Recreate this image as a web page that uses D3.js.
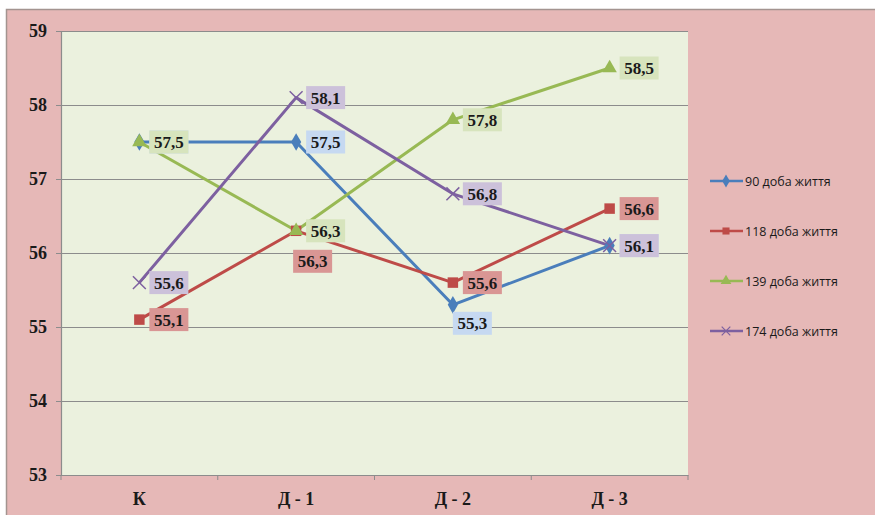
<!DOCTYPE html>
<html>
<head>
<meta charset="utf-8">
<script src="https://cdnjs.cloudflare.com/ajax/libs/d3/7.8.5/d3.min.js"></script>
<style>
  body { margin: 0; background: #fff; }
  svg { display: block; }
</style>
</head>
<body>
<script>
// data
const categories = ["К", "Д - 1", "Д - 2", "Д - 3"];
const seriesNames = ["90 доба життя", "118 доба життя", "139 доба життя", "174 доба життя"];
const s90  = [57.5, 57.5, 55.3, 56.1];
const s118 = [55.1, 56.3, 55.6, 56.6];
const s139 = [57.5, 56.3, 57.8, 58.5];
const s174 = [55.6, 58.1, 56.8, 56.1];
const yTicks = [53, 54, 55, 56, 57, 58, 59];

const colors  = ["#4a7ebb", "#be4b48", "#98b954", "#7d60a0"];
const boxFill = ["#c6d9f1", "#d99694", "#d7e4bd", "#ccc1da"];
const symbols = ["diamond", "square", "triangle", "cross"];
// label placement: "r" = right of point, "b" = below
const placement = [["r", "r", "b", "r"], ["r", "b", "r", "r"], ["r", "r", "r", "r"], ["r", "r", "r", "r"]];

const series = [s90, s118, s139, s174].map((v, i) => ({name: seriesNames[i], values: v, i}));

const W = 875, H = 515;
const plot = {left: 61, right: 688, top: 31, bottom: 475};
const serif = "'Liberation Serif', 'Times New Roman', serif";

const svg = d3.select("body").append("svg").attr("width", W).attr("height", H);

// outer chart area
svg.append("rect").attr("x", 6).attr("y", 10).attr("width", W - 6).attr("height", H - 10)
   .attr("fill", "#e6b8b7");
svg.append("path").attr("d", `M6.5,${H} V9.5 H${W}`).attr("fill", "none")
   .attr("stroke", "#a39490").attr("stroke-width", 1.5);

svg.append("rect").attr("x", plot.left).attr("y", plot.top)
   .attr("width", plot.right - plot.left).attr("height", plot.bottom - plot.top)
   .attr("fill", "#ebf1de");

const x = d3.scaleBand().domain(categories).range([plot.left, plot.right]);
const y = d3.scaleLinear().domain([53, 59]).range([plot.bottom, plot.top]);
const cx = c => x(c) + x.bandwidth() / 2;

// gridlines
svg.append("g").selectAll("line").data(yTicks.slice(1)).enter().append("line")
   .attr("x1", plot.left).attr("x2", plot.right)
   .attr("y1", d => y(d) + 0.5).attr("y2", d => y(d) + 0.5)
   .attr("stroke", "#8c8c8c").attr("stroke-width", 1.2);

// y axis
const yAxis = svg.append("g").attr("transform", `translate(${plot.left},0)`)
   .call(d3.axisLeft(y).tickValues(yTicks).tickSize(5).tickPadding(9).tickFormat(d3.format("d")));
// x axis
const xAxis = svg.append("g").attr("transform", `translate(0,${plot.bottom})`)
   .call(d3.axisBottom(x).tickSize(0).tickPadding(17));
xAxis.selectAll(".tick").append("line").attr("x1", -x.bandwidth() / 2).attr("x2", -x.bandwidth() / 2)
   .attr("y1", 0).attr("y2", 5).attr("stroke", "#8c8c8c");
xAxis.append("line").attr("x1", plot.right).attr("x2", plot.right).attr("y1", 0).attr("y2", 5)
   .attr("stroke", "#8c8c8c");

[yAxis, xAxis].forEach(a => {
  a.attr("font-family", serif);
  a.select(".domain").attr("stroke", "#8c8c8c").attr("stroke-width", 1.2);
  a.selectAll(".tick line").attr("stroke", "#8c8c8c");
  a.selectAll("text").attr("font-family", serif)
   .attr("font-weight", "bold").attr("font-size", 18).attr("fill", "#1a1a1a");
});
yAxis.select(".domain").attr("d", `M-5,${plot.top}.5H0.5V${plot.bottom}.5H-5`);

const line = d3.line().x((d, j) => cx(categories[j])).y(d => y(d));
const symType = {diamond: d3.symbolDiamond, square: d3.symbolSquare, triangle: d3.symbolTriangle, cross: d3.symbolX};

// lines and markers
const g = svg.append("g");
series.forEach(s => {
  g.append("path").datum(s.values).attr("d", line).attr("fill", "none")
   .attr("stroke", colors[s.i]).attr("stroke-width", 3).attr("stroke-linejoin", "round");
});
series.forEach(s => {
  const name = symbols[s.i];
  g.selectAll(null).data(s.values).enter().append("path")
   .attr("transform", (d, j) => `translate(${cx(categories[j])},${y(d)})`)
   .attr("d", d3.symbol().type(symType[name]).size(name === "diamond" || name === "triangle" ? 90 : 110)())
   .attr("fill", name === "cross" ? "none" : colors[s.i])
   .attr("stroke", name === "cross" ? colors[s.i] : "none")
   .attr("stroke-width", 1.5);
});

// data labels
const fmt = v => d3.format(".1f")(v).replace(".", ",");
series.forEach(s => {
  s.values.forEach((v, j) => {
    const px = cx(categories[j]), py = y(v);
    const bw = 39, bh = 23;
    let bx, by;
    if (placement[s.i][j] === "b") { bx = px - (j === 1 ? 3 : 0); by = py + (j === 1 ? 19 : 7); }
    else { bx = px + 10; by = py - bh / 2; }
    g.append("rect").attr("x", bx).attr("y", by).attr("width", bw).attr("height", bh)
     .attr("fill", boxFill[s.i]);
    g.append("text").attr("x", bx + bw / 2).attr("y", by + bh / 2 + 6)
     .attr("text-anchor", "middle")
     .attr("font-family", serif)
     .attr("font-weight", "bold").attr("font-size", 17).attr("fill", "#1a1a1a")
     .text(fmt(v));
  });
});

// legend
const lg = svg.append("g").attr("transform", "translate(710,181)");
const item = lg.selectAll("g").data(series).enter().append("g")
   .attr("transform", (d, i) => `translate(0,${i * 50})`);
item.append("line").attr("x1", 0).attr("x2", 33).attr("stroke", d => colors[d.i]).attr("stroke-width", 2.5);
item.append("path").attr("transform", "translate(16,0)")
   .attr("d", d => d3.symbol().type(symType[symbols[d.i]]).size(50)())
   .attr("fill", d => symbols[d.i] === "cross" ? "none" : colors[d.i])
   .attr("stroke", d => symbols[d.i] === "cross" ? colors[d.i] : "none").attr("stroke-width", 1.2);
item.append("text").attr("x", 35).attr("y", 4.5)
   .attr("font-family", "'Open Sans', 'Noto Sans', sans-serif").attr("font-size", 12.5).attr("fill", "#1a1a1a")
   .text(d => d.name);
</script>
</body>
</html>
